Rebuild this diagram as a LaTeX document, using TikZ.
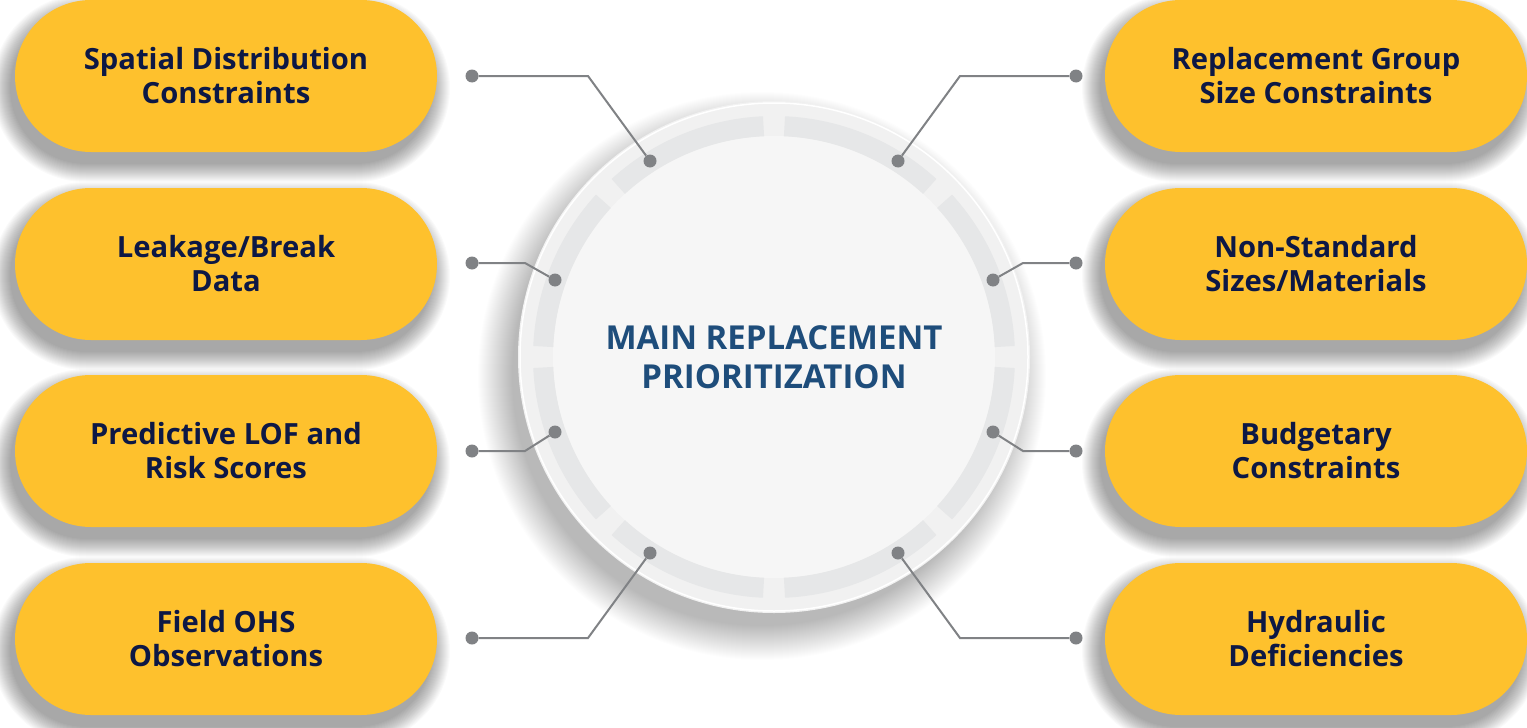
\documentclass[tikz,border=0pt]{standalone}
\usepackage{fontspec}
\setmainfont{Open Sans}
\usetikzlibrary{shapes.misc}
\definecolor{pillc}{HTML}{FEC12D}
\definecolor{navy}{HTML}{0D1845}
\definecolor{ctext}{HTML}{1E4D7B}
\definecolor{conn}{HTML}{808285}
\definecolor{ringc}{HTML}{E6E7E8}
\definecolor{discin}{HTML}{F6F6F6}
\definecolor{discout}{HTML}{F1F1F1}
\begin{document}
\begin{tikzpicture}[x=1pt,y=-1pt,
  pillbox/.style={rounded rectangle, fill=pillc, minimum width=422pt, minimum height=152pt, inner sep=0pt,
    font=\bfseries\fontsize{29.2}{34}\selectfont, text=navy, align=center},
  dotnode/.style={circle, fill=conn, inner sep=0pt, minimum size=13pt},
  link/.style={draw=conn, line width=2pt},
  centertext/.style={font=\bfseries\fontsize{33}{39}\selectfont, text=ctext, align=center}]
\fill[white] (0,0) rectangle (1527,728);
\useasboundingbox (0,0) rectangle (1527,728);
% pill shadows
\foreach \cx/\cy in {226/76,226/264,226/451,226/639,1316/76,1316/264,1316/451,1316/639}{
  \foreach \i in {0,...,18}{
    \pgfmathsetmacro\rr{76+\i}
    \fill[black, opacity=0.02, rounded corners=\rr pt] (\cx-211-\i-5, \cy-76-\i+12) rectangle (\cx+211+\i-5, \cy+76+\i+12);
  }
}
% circle shadow
\foreach \i in {0,...,34}{
  \fill[black, opacity=0.009] (762,376) circle ({250pt+\i pt});
}
% disc
\coordinate (C) at (774,357);
\fill[discout] (C) circle (256pt);
\draw[white, line width=1.5pt] (C) circle (254pt);
\fill[discin] (C) circle (221pt);
\foreach \k in {0,...,7}{
  \draw[ringc, line width=20pt] ([shift={(\k*45+2.6:231pt)}]C) arc[start angle=\k*45+2.6, end angle=\k*45+42.4, radius=231pt];
}
\node[centertext] (main) at (774,357) {MAIN REPLACEMENT\\PRIORITIZATION};
% pills
\node[pillbox] (L1) at (226,76) {Spatial Distribution\\Constraints};
\node[pillbox] (L2) at (226,264) {Leakage/Break\\Data};
\node[pillbox] (L3) at (226,451) {Predictive LOF and\\Risk Scores};
\node[pillbox] (L4) at (226,639) {Field OHS\\Observations};
\node[pillbox] (R1) at (1316,76) {Replacement Group\\Size Constraints};
\node[pillbox] (R2) at (1316,264) {Non-Standard\\Sizes/Materials};
\node[pillbox] (R3) at (1316,451) {Budgetary\\Constraints};
\node[pillbox] (R4) at (1316,639) {Hydraulic\\Deficiencies};
% connectors left
\node[dotnode] (la1) at (472,76) {};
\node[dotnode] (lb1) at (650,161) {};
\coordinate (le1) at (588,76);
\node[dotnode] (la2) at (472,263) {};
\node[dotnode] (lb2) at (555,280) {};
\coordinate (le2) at (525,263);
\node[dotnode] (la3) at (472,451) {};
\node[dotnode] (lb3) at (555,432) {};
\coordinate (le3) at (525,451);
\node[dotnode] (la4) at (472,638) {};
\node[dotnode] (lb4) at (650,553) {};
\coordinate (le4) at (588,638);
% connectors right
\node[dotnode] (ra1) at (1076,76) {};
\node[dotnode] (rb1) at (898,161) {};
\coordinate (re1) at (960,76);
\node[dotnode] (ra2) at (1076,263) {};
\node[dotnode] (rb2) at (993,280) {};
\coordinate (re2) at (1023,263);
\node[dotnode] (ra3) at (1076,451) {};
\node[dotnode] (rb3) at (993,432) {};
\coordinate (re3) at (1023,451);
\node[dotnode] (ra4) at (1076,638) {};
\node[dotnode] (rb4) at (898,553) {};
\coordinate (re4) at (960,638);
\foreach \s in {l,r}{
  \foreach \n in {1,2,3,4}{
    \draw[link] (\s a\n) -- (\s e\n) -- (\s b\n);
  }
}
\end{tikzpicture}
\end{document}
